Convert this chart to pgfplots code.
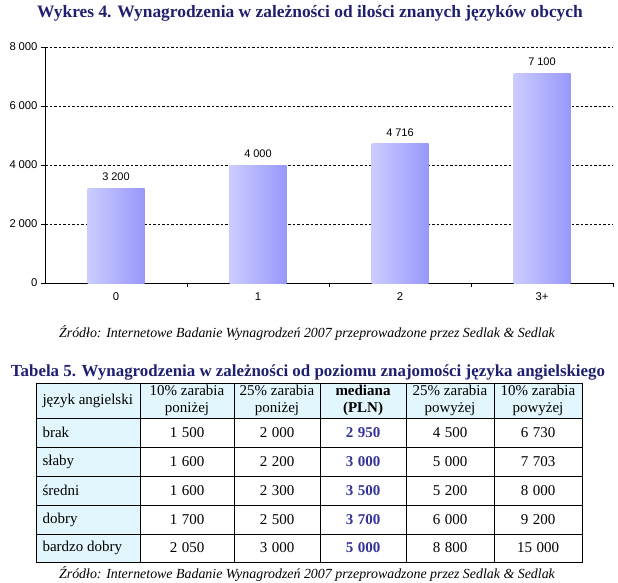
\documentclass[border=0pt]{standalone}
\usepackage{fontspec}
\setmainfont{Liberation Serif}
\newfontfamily\arial{Liberation Sans}
\usepackage{pgfplots}
\pgfplotsset{compat=1.18}
\definecolor{navy}{RGB}{32,32,112}
\definecolor{medcol}{RGB}{51,51,153}
\definecolor{cellbg}{RGB}{226,246,253}
\definecolor{barL}{RGB}{204,204,255}
\definecolor{barR}{RGB}{152,152,252}
\newcommand{\tsp}{\hspace{2.8pt}}
\newcommand{\nsp}{\hspace{4.5pt}}
\newcommand{\tfont}{\fontsize{15}{17}\selectfont}
\newcommand{\trow}[7]{%
  \node[anchor=west] at (39,#1) {#2};
  \node at (187,#1) {#3};
  \node at (277,#1) {#4};
  \node[font=\tfont\bfseries, text=medcol] at (363,#1) {#5};
  \node at (450,#1) {#6};
  \node at (538,#1) {#7};
}
\pgfplotsset{barsty/.style={ybar, bar width=57pt, bar shift=0pt, draw=none, left color=barL, right color=barR,
  nodes near coords, point meta=explicit symbolic,
  nodes near coords style={font=\arial\fontsize{11}{12}\selectfont, anchor=south, yshift=4pt, text=black}}}
\begin{document}
\begin{tikzpicture}[x=1pt,y=-1pt]
\path[use as bounding box] (0,0) rectangle (618,583);
\node[font=\fontsize{17.4}{19}\selectfont\bfseries, text=navy] at (310,13) {Wykres 4. Wynagrodzenia w zależności od ilości znanych języków obcych};
\begin{axis}[
  at={(45pt,-283pt)}, anchor=south west,
  scale only axis, width=568pt, height=236pt,
  xmin=-0.5, xmax=3.5, ymin=0, ymax=8000,
  axis lines=left, axis line style={-, black, line width=0.8pt},
  tick align=outside, major tick length=4pt,
  tick style={black, line width=0.7pt},
  xtick={0.5,1.5,2.5,3.5}, xticklabels={},
  extra x ticks={0,1,2,3}, extra x tick labels={0,1,2,3+},
  extra x tick style={major tick length=0pt, grid=none},
  ytick={0,2000,4000,6000,8000},
  yticklabels={0,2\tsp000,4\tsp000,6\tsp000,8\tsp000},
  ymajorgrids=true,
  major grid style={black, line width=0.6pt, dash pattern=on 2.5pt off 2pt},
  tick label style={font=\arial\fontsize{11.3}{12}\selectfont},
  /pgf/number format/assume math mode=true,
  xticklabel style={yshift=-6pt},
  clip=false,
]
\addplot[barsty] coordinates {(0,3200)[3\tsp200]};
\addplot[barsty] coordinates {(1,4000)[4\tsp000]};
\addplot[barsty] coordinates {(2,4716)[4\tsp716]};
\addplot[barsty] coordinates {(3,7100)[7\tsp100]};
\end{axis}
\node[font=\fontsize{13.9}{15}\selectfont\itshape] at (307,333) {Źródło: Internetowe Badanie Wynagrodzeń 2007 przeprowadzone przez Sedlak \& Sedlak};
\node[font=\fontsize{16.9}{18}\selectfont\bfseries, text=navy] at (308,372) {Tabela 5. Wynagrodzenia w zależności od poziomu znajomości języka angielskiego};
% table background
\fill[cellbg] (36,383) rectangle (582,418);
\fill[cellbg] (36,418) rectangle (140,562);
\draw[black, line width=0.8pt] (36,383) rectangle (582,562);
\foreach \yy in {418,447,476,505,534} \draw[black, line width=0.8pt] (36,\yy) -- (582,\yy);
\foreach \xx in {140,234,320,406,494} \draw[black, line width=0.8pt] (\xx,383) -- (\xx,562);
\begin{scope}[font=\tfont]
\node[anchor=west] at (39,400.5) {język angielski};
\node[align=center] at (187,400.5) {10\% zarabia\\poniżej};
\node[align=center] at (277,400.5) {25\% zarabia\\poniżej};
\node[align=center, font=\tfont\bfseries] at (363,400.5) {mediana\\(PLN)};
\node[align=center] at (450,400.5) {25\% zarabia\\powyżej};
\node[align=center] at (538,400.5) {10\% zarabia\\powyżej};
\trow{432.5}{brak}{1\nsp500}{2\nsp000}{2\nsp950}{4\nsp500}{6\nsp730}
\trow{461.5}{słaby}{1\nsp600}{2\nsp200}{3\nsp000}{5\nsp000}{7\nsp703}
\trow{490.5}{średni}{1\nsp600}{2\nsp300}{3\nsp500}{5\nsp200}{8\nsp000}
\trow{519.5}{dobry}{1\nsp700}{2\nsp500}{3\nsp700}{6\nsp000}{9\nsp200}
\trow{548}{bardzo dobry}{2\nsp050}{3\nsp000}{5\nsp000}{8\nsp800}{15\nsp000}
\end{scope}
\node[font=\fontsize{13.9}{15}\selectfont\itshape] at (307,574) {Źródło: Internetowe Badanie Wynagrodzeń 2007 przeprowadzone przez Sedlak \& Sedlak};
\end{tikzpicture}
\end{document}
